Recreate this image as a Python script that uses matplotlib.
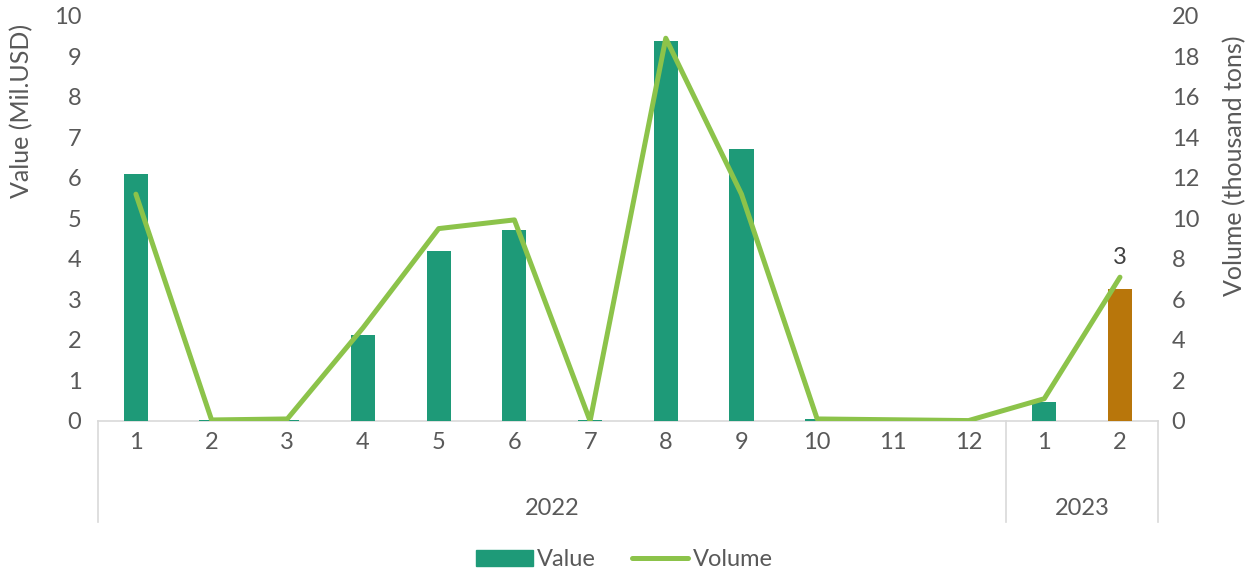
import matplotlib.pyplot as plt
from matplotlib.patches import Patch
from matplotlib.lines import Line2D

plt.rcParams['font.family'] = ['Lato', 'DejaVu Sans']

# data
months = ['1', '2', '3', '4', '5', '6', '7', '8', '9', '10', '11', '12', '1', '2']
value = [6.1, 0.02, 0.02, 2.13, 4.2, 4.72, 0.02, 9.38, 6.72, 0.05, 0.0, 0.0, 0.48, 3.26]
volume = [11.2, 0.05, 0.1, 4.6, 9.5, 9.93, 0.0, 18.9, 11.2, 0.1, 0.06, 0.02, 1.1, 7.1]
years = ['2022', '2023']
year_span = [(0, 11), (12, 13)]

teal = '#1E9A78'
brown = '#B8760B'
green = '#8CC34A'
grey = '#595959'
line_grey = '#D9D9D9'
fs = 17

fig = plt.figure(figsize=(12.49, 5.74), dpi=100)
ax = fig.add_axes([0.0785, 0.2666, 0.8485, 0.7056])
ax2 = ax.twinx()

x = list(range(len(months)))
colors = [teal] * (len(months) - 1) + [brown]
ax.bar(x, value, width=0.32, color=colors, zorder=2)

ax2.plot(x, volume, color=green, lw=3.6, solid_capstyle='round', solid_joinstyle='round', zorder=3)
ax2.text(x[-1], volume[-1] + 0.45, '3', ha='center', va='bottom', fontsize=fs, color='#404040', zorder=4)

ax.set_xlim(-0.5, len(months) - 0.5)
ax.set_ylim(0, 10)
ax2.set_ylim(0, 20)
ax.set_yticks(range(0, 11))
ax2.set_yticks(range(0, 21, 2))

for a in (ax, ax2):
    for s in a.spines.values():
        s.set_visible(False)
    a.tick_params(length=0, labelsize=fs, labelcolor=grey)

ax.set_xticks(x)
ax.set_xticklabels(months)
ax.tick_params(axis='x', pad=8)
ax.tick_params(axis='y', pad=12)
ax2.tick_params(axis='y', pad=10)

ax.set_ylabel('Value (Mil.USD)', fontsize=fs + 1, color=grey)
ax2.set_ylabel('Volume (thousand tons)', fontsize=fs + 1, color=grey)
ax.yaxis.set_label_coords(-0.061, 0.765)
ax2.yaxis.set_label_coords(1.0615, 0.63)

# category axis box
tr = ax.get_xaxis_transform()
ax.plot([-0.5, len(months) - 0.5], [0, 0], transform=tr, color=line_grey, lw=1.2, clip_on=False, zorder=1)
for xb in [-0.5, 11.5, len(months) - 0.5]:
    ax.plot([xb, xb], [0, -0.25], transform=tr, color=line_grey, lw=1.2, clip_on=False)
for name, (a0, a1) in zip(years, year_span):
    ax.text((a0 + a1) / 2, -0.215, name, transform=tr, ha='center', va='center', fontsize=fs, color=grey)

handles = [Patch(color=teal), Line2D([], [], color=green, lw=3.6, solid_capstyle='round')]
fig.legend(handles, ['Value', 'Volume'], loc='center', bbox_to_anchor=(0.5, 0.025), ncol=2,
           frameon=False, fontsize=fs, labelcolor=grey, handlelength=2.4, handletextpad=0.2, columnspacing=1.5)

fig.savefig('out.png', dpi=100)
